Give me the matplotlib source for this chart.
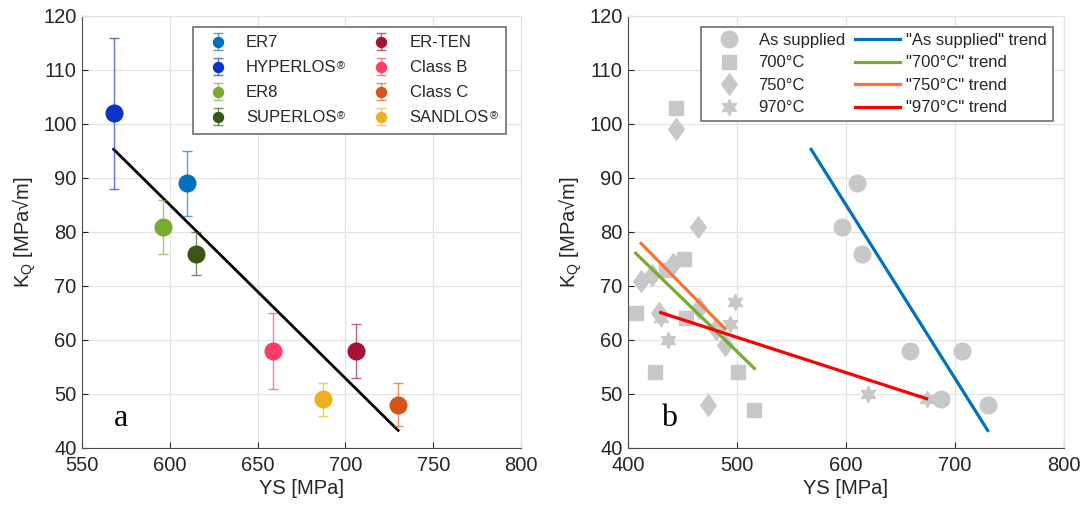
import numpy as np
import matplotlib
matplotlib.use("Agg")
import matplotlib.pyplot as plt
from matplotlib.colors import to_rgba
from matplotlib.lines import Line2D
from matplotlib.path import Path
from matplotlib.patches import Rectangle

plt.rcParams['font.family'] = ['Liberation Sans', 'DejaVu Sans']
plt.rcParams['mathtext.fontset'] = 'custom'
plt.rcParams['mathtext.rm'] = 'Liberation Sans'

# panel a: wheel steels, yield strength vs K_Q with scatter
steels = ["ER7", "HYPERLOS®", "ER8", "SUPERLOS®",
          "ER-TEN", "Class B", "Class C", "SANDLOS®"]
steel_colors = ["#0072BD", "#0A33C8", "#77AC30", "#3A5518",
                "#A2142F", "#FF3D66", "#D95319", "#EDB120"]
ys_a = [610, 568, 596, 615, 706, 659, 730, 687]
kq_a = [89, 102, 81, 76, 58, 58, 48, 49]
kq_hi = [95, 116, 86, 80, 63, 65, 52, 52]
kq_lo = [83, 88, 76, 72, 53, 51, 44, 46]

# panel b: heat treated conditions
ys_supplied = [596, 610, 615, 659, 687, 706, 730]
kq_supplied = [81, 89, 76, 58, 49, 58, 48]
ys_700 = [444, 451, 435, 407, 453, 425, 501, 516]
kq_700 = [103, 75, 73, 65, 64, 54, 54, 47]
ys_750 = [444, 464, 441, 412, 422, 428, 465, 489, 473, 481]
kq_750 = [99, 81, 74, 71, 72, 65, 66, 59, 48, 62]
ys_970 = [430, 437, 494, 498, 620, 674]
kq_970 = [64, 60, 63, 67, 50, 49]

gray = "#C8C8C8"
txt = "#262626"
grid_c = "#E3E3E3"
frame_c = "#6E6E6E"
diamond = Path([(0, 1), (0.72, 0), (0, -1), (-0.72, 0), (0, 1)], closed=True)
hexagram = (6, 1, 0)


def style_axes(ax, xlim, xticks):
    ax.set_xlim(xlim)
    ax.set_ylim(40, 120)
    ax.set_xticks(xticks)
    ax.set_yticks(range(40, 121, 10))
    ax.grid(True, color=grid_c, linewidth=0.9)
    ax.set_axisbelow(True)
    for s in ["top", "right"]:
        ax.spines[s].set_color(grid_c)
    for s in ["left", "bottom"]:
        ax.spines[s].set_color("#4D4D4D")
    ax.tick_params(direction="in", length=4, labelsize=14.5, colors=txt,
                   top=False, right=False)
    ax.tick_params(axis="x", pad=6)
    ax.tick_params(axis="y", pad=4)
    ax.set_xlabel("YS [MPa]", fontsize=14.5, color=txt, labelpad=3)
    ax.set_ylabel("K$_{\\mathregular{Q}}$ [MPa√m]", fontsize=14.5, color=txt,
                  labelpad=4)


fig = plt.figure(figsize=(10.88, 5.11), dpi=100)
ax1 = fig.add_axes([0.0754, 0.1233, 0.4035, 0.8454])
ax2 = fig.add_axes([0.5772, 0.1233, 0.4007, 0.8454])

# ---- panel a
for i in range(len(steels)):
    err = [[kq_a[i] - kq_lo[i]], [kq_hi[i] - kq_a[i]]]
    ax1.errorbar([ys_a[i]], [kq_a[i]], yerr=err, fmt="o", color=steel_colors[i],
                 ecolor=to_rgba(steel_colors[i], 0.65), elinewidth=1,
                 capsize=3.5, capthick=1, markersize=12,
                 label=steels[i].replace("®", ""), zorder=3)
p_a = np.polyfit(ys_a, kq_a, 1)
xx = np.array([min(ys_a), max(ys_a)])
ax1.plot(xx, np.polyval(p_a, xx), color="black", linewidth=2, zorder=2)
style_axes(ax1, (550, 800), range(550, 801, 50))
ax1.text(572, 45.5, "a", fontsize=23, family="Liberation Serif",
         ha="center", va="center")
# frame is drawn by hand so there is room for the trailing ® mark
leg1 = ax1.legend(ncol=2, loc="upper right", fontsize=12, markerscale=0.6,
                  frameon=False, bbox_to_anchor=(0.946, 0.9745),
                  columnspacing=1.7, handlelength=2.0, handletextpad=0.7,
                  labelspacing=0.6, borderpad=0.5, borderaxespad=0)
leg1.set_zorder(6)
for t in leg1.get_texts():
    t.set_color(txt)

# ---- panel b
ax2.plot(ys_supplied, kq_supplied, "o", color=gray, markersize=12, zorder=2)
ax2.plot(ys_700, kq_700, "s", color=gray, markersize=10, zorder=2)
ax2.plot(ys_750, kq_750, marker=diamond, linestyle="none", color=gray,
         markersize=15.5, zorder=2)
ax2.plot(ys_970, kq_970, marker=hexagram, linestyle="none", color=gray,
         markersize=12, zorder=2)

trend_colors = ["#0072BD", "#77AC30", "#FF7034", "#FF0000"]
groups = [(ys_a, kq_a), (ys_700, kq_700),
          (ys_750, kq_750), (ys_970, kq_970)]
for (gx, gy), c in zip(groups, trend_colors):
    p = np.polyfit(gx, gy, 1)
    xx = np.array([min(gx), max(gx)])
    ax2.plot(xx, np.polyval(p, xx), color=c, linewidth=2.3, zorder=3)

style_axes(ax2, (400, 800), range(400, 801, 100))
ax2.text(438, 45.5, "b", fontsize=23, family="Liberation Serif",
         ha="center", va="center")

handles = [
    Line2D([], [], marker="o", linestyle="none", color=gray, markersize=12),
    Line2D([], [], marker="s", linestyle="none", color=gray, markersize=10),
    Line2D([], [], marker=diamond, linestyle="none", color=gray, markersize=15.5),
    Line2D([], [], marker=hexagram, linestyle="none", color=gray, markersize=12),
] + [Line2D([], [], color=c, linewidth=2.3) for c in trend_colors]
labels = ["As supplied", "700°C", "750°C", "970°C",
          '"As supplied" trend', '"700°C" trend', '"750°C" trend',
          '"970°C" trend']
leg2 = ax2.legend(handles, labels, ncol=2, loc="upper right", fontsize=12,
                  frameon=True, fancybox=False, edgecolor=frame_c,
                  bbox_to_anchor=(0.975, 0.9745), columnspacing=0.6,
                  handlelength=2.7, handletextpad=0.4, labelspacing=0.45,
                  borderpad=0.35, borderaxespad=0, framealpha=1)
leg2.get_frame().set_linewidth(1.2)
for t in leg2.get_texts():
    t.set_color(txt)

# superscript registered marks and legend frame for panel a
fig.canvas.draw()
r = fig.canvas.get_renderer()
W, H = fig.bbox.width, fig.bbox.height
for t, name in zip(leg1.get_texts(), steels):
    if name.endswith("®"):
        bb = t.get_window_extent(r)
        fig.text((bb.x1 + 0.5) / W, (bb.y1 - 0.5) / H, "®", fontsize=8,
                 ha="left", va="top", color=txt, zorder=7)
lb = leg1.get_window_extent(r)
inv = ax1.transAxes.inverted()
(x0, y0), (x1, y1) = inv.transform([(lb.x0, lb.y0), (lb.x1 + 9, lb.y1)])
ax1.add_patch(Rectangle((x0, y0), x1 - x0, y1 - y0, transform=ax1.transAxes,
                        facecolor="white", edgecolor=frame_c, linewidth=1.2,
                        zorder=5, clip_on=False))

fig.savefig("out.png", dpi=100, facecolor="white")
